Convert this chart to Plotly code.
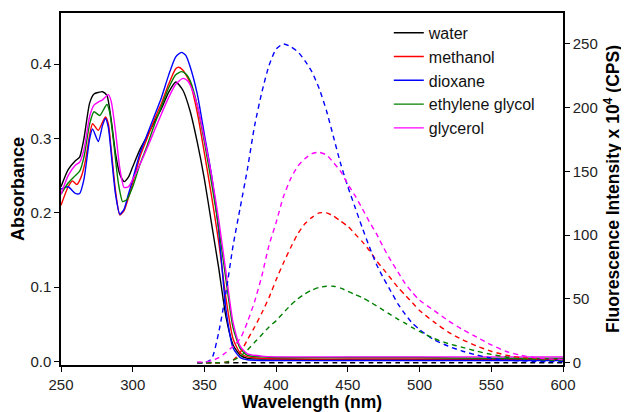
import plotly.graph_objects as go

solvents = ["water", "methanol", "dioxane", "ethylene glycol", "glycerol"]
colors = ["#000000", "#FF0000", "#0000FF", "#008000", "#FF00FF"]

# ---- Absorbance (left axis) ----
wl_water = [250, 255, 260, 263, 266, 270, 273, 276, 279, 282, 285, 288, 291, 294, 297, 300, 305, 310, 315, 320, 325, 330, 335, 340, 345, 350, 355, 360, 365, 370, 375, 380, 390, 400, 450, 500, 550, 600]
abs_water = [0.235, 0.258, 0.270, 0.275, 0.300, 0.348, 0.360, 0.362, 0.363, 0.358, 0.325, 0.280, 0.252, 0.242, 0.248, 0.262, 0.285, 0.303, 0.322, 0.340, 0.362, 0.376, 0.365, 0.337, 0.295, 0.245, 0.185, 0.125, 0.060, 0.022, 0.008, 0.004, 0.003, 0.003, 0.002, 0.002, 0.002, 0.002]

wl_methanol = [250, 255, 258, 261, 264, 267, 270, 272, 276, 279, 281, 283, 285, 288, 291, 294, 297, 300, 305, 310, 315, 320, 325, 330, 332, 335, 340, 345, 350, 355, 360, 365, 370, 375, 380, 390, 400, 450, 500, 550, 600]
abs_methanol = [0.210, 0.235, 0.243, 0.238, 0.248, 0.270, 0.305, 0.320, 0.311, 0.322, 0.329, 0.320, 0.285, 0.230, 0.197, 0.203, 0.220, 0.240, 0.275, 0.300, 0.325, 0.347, 0.373, 0.394, 0.396, 0.392, 0.375, 0.335, 0.280, 0.222, 0.160, 0.085, 0.030, 0.011, 0.006, 0.004, 0.003, 0.003, 0.003, 0.003, 0.003]

wl_dioxane = [250, 255, 260, 263, 266, 270, 272, 276, 279, 281, 283, 285, 288, 291, 294, 297, 300, 305, 310, 315, 320, 325, 330, 334, 337, 340, 345, 350, 355, 360, 365, 370, 375, 380, 400, 450, 500, 550, 600]
abs_dioxane = [0.232, 0.235, 0.226, 0.226, 0.245, 0.300, 0.313, 0.296, 0.318, 0.327, 0.315, 0.280, 0.225, 0.198, 0.205, 0.225, 0.245, 0.280, 0.305, 0.330, 0.355, 0.385, 0.410, 0.416, 0.412, 0.397, 0.360, 0.305, 0.250, 0.175, 0.070, 0.018, 0.005, 0.002, 0.001, 0.001, 0.001, 0.001, 0.001]

wl_eg = [250, 255, 260, 263, 266, 270, 273, 277, 280, 282, 284, 287, 290, 293, 296, 300, 305, 310, 315, 320, 325, 330, 334, 337, 340, 345, 350, 355, 360, 365, 370, 375, 380, 390, 400, 450, 500, 550, 600]
abs_eg = [0.225, 0.240, 0.250, 0.256, 0.275, 0.320, 0.336, 0.331, 0.340, 0.346, 0.335, 0.290, 0.240, 0.215, 0.218, 0.235, 0.265, 0.290, 0.318, 0.343, 0.368, 0.386, 0.390, 0.387, 0.378, 0.345, 0.295, 0.240, 0.180, 0.110, 0.045, 0.017, 0.008, 0.006, 0.005, 0.005, 0.005, 0.004, 0.004]

wl_glycerol = [250, 255, 260, 263, 266, 270, 273, 276, 279, 283, 285, 288, 291, 294, 297, 300, 305, 310, 315, 320, 325, 330, 335, 338, 340, 345, 350, 355, 360, 365, 370, 375, 380, 390, 400, 450, 500, 550, 600]
abs_glycerol = [0.225, 0.250, 0.264, 0.268, 0.285, 0.330, 0.345, 0.349, 0.352, 0.359, 0.350, 0.310, 0.260, 0.234, 0.235, 0.245, 0.265, 0.287, 0.310, 0.333, 0.355, 0.373, 0.381, 0.378, 0.372, 0.345, 0.300, 0.250, 0.190, 0.120, 0.052, 0.020, 0.010, 0.007, 0.006, 0.006, 0.006, 0.006, 0.006]

# ---- Fluorescence (right axis, x 10^4 CPS) ----
fl_wl = [345, 350, 355, 360, 365, 370, 375, 380, 385, 390, 395, 400, 405, 410, 415, 420, 425, 430, 435, 440, 445, 450, 455, 460, 465, 470, 475, 480, 485, 490, 495, 500, 510, 520, 530, 540, 550, 560, 570, 580, 590, 600]
fl_water = [0, 0, 0, 0, 0, 0, 0, 0, 0, 0, 0, 0, 0, 0, 0, 0, 0, 0, 0, 0, 0, 0, 0, 0, 0, 0, 0, 0, 0, 0, 0, 0, 0, 0, 0, 0, 0, 0, 0, 0, 0, 0]
fl_methanol = [0, 0, 0, 0, 0.5, 2, 8, 18, 28, 39, 51, 65, 78, 90, 101, 109, 114, 117.5, 117.5, 115, 111, 107, 101, 95, 88, 80, 73, 66, 59, 53, 47, 41, 32, 24, 18, 13, 9, 6, 4, 3, 2.5, 2]
fl_dioxane = [0, 0, 3, 24, 55, 92, 122, 152, 186, 212, 233, 246, 250, 248, 244, 237, 228, 215, 198, 177, 156, 138, 122, 106, 91, 77, 66, 56, 46, 38, 31, 26, 18, 13, 9, 6, 3.5, 2, 1.5, 1, 1, 1]
fl_eg = [0, 0, 0, 0, 0.5, 2, 5, 10, 16, 22, 28, 33, 39, 45, 50, 54, 57, 59, 60, 60, 58.5, 56, 53.5, 51, 48, 44.5, 41, 37.5, 34, 31, 27.5, 24.5, 19, 15, 12, 9, 6.5, 4.5, 3, 2.5, 2, 2]
fl_glycerol = [0.5, 0.5, 1.5, 4, 8, 13, 19, 32, 48, 68, 92, 110, 130, 144, 154, 160, 164, 165, 163, 157, 150, 140, 131, 121, 110.5, 101, 90, 80, 71, 62, 55, 49, 41, 33, 26, 20, 14, 9, 6, 4, 3, 2.5]

abs_sets = [(wl_water, abs_water), (wl_methanol, abs_methanol), (wl_dioxane, abs_dioxane),
            (wl_eg, abs_eg), (wl_glycerol, abs_glycerol)]
fl_sets = [fl_water, fl_methanol, fl_dioxane, fl_eg, fl_glycerol]

fig = go.Figure()

for name, col, fl in zip(solvents, colors, fl_sets):
    fig.add_trace(go.Scatter(x=fl_wl, y=fl, mode="lines", yaxis="y2", showlegend=False,
                             line=dict(color=col, width=1.4, dash="5px,4px", shape="spline", smoothing=0.6),
                             hoverinfo="skip"))

for name, col, (wl, ab) in zip(solvents, colors, abs_sets):
    fig.add_trace(go.Scatter(x=wl, y=ab, mode="lines", name=name,
                             line=dict(color=col, width=1.4, shape="spline", smoothing=0.6)))

FAM = "Arial, Liberation Sans, sans-serif"
axis_font = dict(family=FAM, size=15, color="#222222")
title_font = dict(family=FAM, size=17.5, color="#000000")

# The page body adds an 8 px offset, so the figure is sized 8 px smaller.
fig.update_layout(
    width=621, height=404,
    margin=dict(l=53, r=66, t=5, b=47),
    paper_bgcolor="white", plot_bgcolor="white",
    font=dict(family=FAM),
    xaxis=dict(range=[250, 600], tickvals=[250, 300, 350, 400, 450, 500, 550, 600],
               showline=True, linecolor="black", linewidth=1.5, mirror=True, automargin=False,
               ticks="outside", ticklen=5, tickwidth=1.2, tickcolor="black",
               showgrid=False, zeroline=False, tickfont=axis_font,
               title=dict(text="<b>Wavelength (nm)</b>", font=title_font, standoff=2)),
    yaxis=dict(range=[-0.005, 0.469], tickvals=[0.0, 0.1, 0.2, 0.3, 0.4], tickformat=".1f",
               showline=True, linecolor="black", linewidth=1.5, automargin=False,
               ticks="outside", ticklen=5, tickwidth=1.2, tickcolor="black",
               showgrid=False, zeroline=False, tickfont=axis_font,
               title=dict(text="<b>Absorbance</b>", font=dict(family=FAM, size=18, color="#000000"), standoff=4)),
    yaxis2=dict(range=[-1.8, 274.3], tickvals=[0, 50, 100, 150, 200, 250], overlaying="y", side="right",
                showline=True, linecolor="black", linewidth=1.5, automargin=False,
                ticks="outside", ticklen=5, tickwidth=1.2, tickcolor="black",
                showgrid=False, zeroline=False, tickfont=axis_font,
                title=dict(text="<b>Fluorescence Intensity x 10<sup>4</sup> (CPS)</b>", font=title_font, standoff=10)),
    legend=dict(x=0.653, y=0.992, xanchor="left", yanchor="top", bgcolor="rgba(0,0,0,0)",
                font=dict(family=FAM, size=16, color="#111111"),
                tracegroupgap=0, itemwidth=30),
    showlegend=True,
)

fig.write_html("out.html")
